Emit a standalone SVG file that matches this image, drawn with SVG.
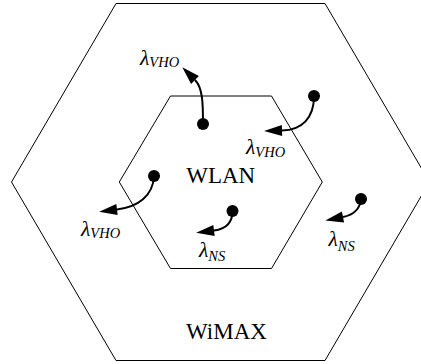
<svg xmlns="http://www.w3.org/2000/svg" width="421" height="364" viewBox="0 0 421 364">
<style>
.cell{fill:none;stroke:#000;stroke-width:1}
.name{font-family:"Liberation Serif","Times New Roman",serif;font-size:23px;fill:#000;text-anchor:middle}
.lam{font-family:"Liberation Serif","Times New Roman",serif;font-size:21.5px;font-style:italic;fill:#000}
.sub{font-size:14.5px}
.mn{fill:#000}
.flow{fill:none;stroke:#000;stroke-width:2;marker-end:url(#ah)}
</style>
<defs>
<marker id="ah" markerUnits="userSpaceOnUse" markerWidth="18" markerHeight="11" refX="0" refY="5.5" orient="auto" viewBox="0 0 18 11" overflow="visible">
<path d="M0,0 L18,5.5 L0,11 z" fill="#000"/>
</marker>
</defs>
<rect width="421" height="364" fill="#fff"/>
<g id="wimax">
<polygon class="cell" points="116,3.5 325,3.5 429.5,182 325,360.5 116,360.5 11.5,182"/>
<text class="name" x="226.5" y="338.5">WiMAX</text>
</g>
<g id="wlan">
<polygon class="cell" points="170.5,96 271.5,96 322.3,182 271.5,268.5 170.5,268.5 119.3,182"/>
<text class="name" x="220.7" y="183">WLAN</text>
</g>
<g id="connectors">
<path class="flow" d="M203,124 C203,105 203,88 195,80"/>
<path class="flow" d="M314,96 C314,118 302,130 282,130.5"/>
<path class="flow" d="M154,176 C153,196 138,207 117,209.5"/>
<path class="flow" d="M232.5,211 C232.5,222 226,229 214,230.5"/>
<path class="flow" d="M361,199 C360,209 353,215 343,217"/>
</g>
<g id="mn1"><circle class="mn" cx="203" cy="124" r="6"/><text class="lam" x="140" y="65">λ<tspan class="sub" dy="2">VHO</tspan></text></g>
<g id="mn2"><circle class="mn" cx="314" cy="96" r="6"/><text class="lam" x="246" y="154">λ<tspan class="sub" dy="3">VHO</tspan></text></g>
<g id="mn3"><circle class="mn" cx="154" cy="176" r="6"/><text class="lam" x="81" y="236">λ<tspan class="sub" dy="2">VHO</tspan></text></g>
<g id="mn4"><circle class="mn" cx="232.5" cy="211" r="6"/><text class="lam" x="199" y="256.5">λ<tspan class="sub" dy="4.5">NS</tspan></text></g>
<g id="mn5"><circle class="mn" cx="361" cy="199" r="6"/><text class="lam" x="328.5" y="246">λ<tspan class="sub" dy="4.5">NS</tspan></text></g>
</svg>
